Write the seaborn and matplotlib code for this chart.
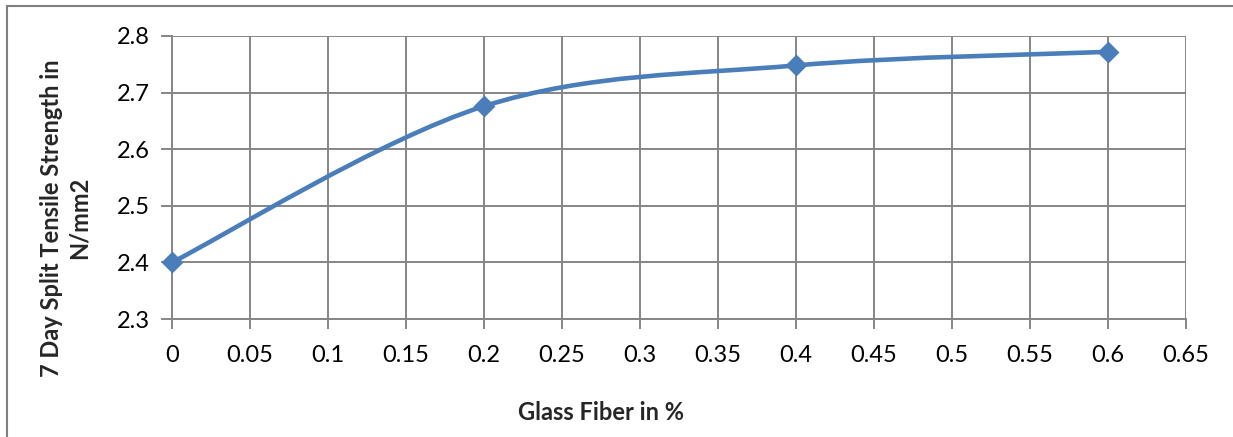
import numpy as np
import pandas as pd
import matplotlib
matplotlib.use("Agg")
import matplotlib.pyplot as plt
from matplotlib.path import Path
from matplotlib.patches import PathPatch
from matplotlib.lines import Line2D
import seaborn as sns

# ---- data ----
glass_fiber = [0.0, 0.2, 0.4, 0.6]
strength = [2.40, 2.676, 2.748, 2.772]
x_ticks = [0, 0.05, 0.1, 0.15, 0.2, 0.25, 0.3, 0.35, 0.4, 0.45, 0.5, 0.55, 0.6, 0.65]
x_tick_labels = ["0", "0.05", "0.1", "0.15", "0.2", "0.25", "0.3", "0.35", "0.4",
                 "0.45", "0.5", "0.55", "0.6", "0.65"]
y_ticks = [2.3, 2.4, 2.5, 2.6, 2.7, 2.8]
y_tick_labels = ["2.3", "2.4", "2.5", "2.6", "2.7", "2.8"]
x_label = "Glass Fiber in %"
y_label = "7 Day Split Tensile Strength in\nN/mm2"

df = pd.DataFrame({"fiber": glass_fiber, "strength": strength})

sns.set_theme(style="white")
plt.rcParams["font.family"] = ["Lato", "DejaVu Sans"]

W, H = 1233, 437
fig = plt.figure(figsize=(W / 100, H / 100), dpi=100)
fig.patch.set_facecolor("white")

x0, x1, y0, y1 = 172, 1186, 36, 319
ax = fig.add_axes([x0 / W, 1 - y1 / H, (x1 - x0) / W, (y1 - y0) / H])

color = "#4A7EBB"
grid_c = "#868686"

# smoothed line (Excel-style Catmull-Rom Bezier through the data points)
px = df["fiber"].to_numpy()
py = df["strength"].to_numpy()
n = len(px)
verts = [(px[0], py[0])]
codes = [Path.MOVETO]
for i in range(n - 1):
    p0 = np.array([px[max(i - 1, 0)], py[max(i - 1, 0)]])
    p1 = np.array([px[i], py[i]])
    p2 = np.array([px[i + 1], py[i + 1]])
    p3 = np.array([px[min(i + 2, n - 1)], py[min(i + 2, n - 1)]])
    c1 = p1 + (p2 - p0) / 6.0
    c2 = p2 - (p3 - p1) / 6.0
    verts += [tuple(c1), tuple(c2), tuple(p2)]
    codes += [Path.CURVE4, Path.CURVE4, Path.CURVE4]
ax.add_patch(PathPatch(Path(verts, codes), facecolor="none", edgecolor=color,
                       lw=3.3, capstyle="round", joinstyle="round", zorder=3))

sns.scatterplot(data=df, x="fiber", y="strength", ax=ax, marker="D", s=125,
                color=color, edgecolor=color, linewidth=0, zorder=4, clip_on=False)

ax.set_xlim(0, 0.65)
ax.set_ylim(2.3, 2.8)
ax.set_xticks(x_ticks)
ax.set_xticklabels(x_tick_labels)
ax.set_yticks(y_ticks)
ax.set_yticklabels(y_tick_labels)
ax.set_xlabel("")
ax.set_ylabel("")

ax.grid(True, color=grid_c, lw=1.4)
ax.set_axisbelow(True)
for s in ["top", "right"]:
    ax.spines[s].set_visible(False)
for s in ["left", "bottom"]:
    ax.spines[s].set_color(grid_c)
    ax.spines[s].set_linewidth(1.4)

ax.tick_params(axis="both", which="major", direction="out", color=grid_c,
               width=1.4, labelsize=17, labelcolor="black")
ax.tick_params(axis="y", length=8, pad=8, left=True)
ax.tick_params(axis="x", length=7, pad=12, bottom=True)

fig.text(601 / W, 1 - 412 / H, x_label, ha="center", va="center",
         fontsize=17, fontweight="bold")
fig.text(65 / W, 1 - 218 / H, y_label, ha="center", va="center",
         rotation=90, fontsize=17, fontweight="bold", linespacing=1.25)

# chart frame
fig.add_artist(Line2D([7 / W, 1.0], [1 - 6 / H, 1 - 6 / H], color="#7F7F7F", lw=1.5))
fig.add_artist(Line2D([7 / W, 7 / W], [0, 1 - 6 / H], color="#7F7F7F", lw=1.5))

fig.savefig("out.png", dpi=100, facecolor="white")
